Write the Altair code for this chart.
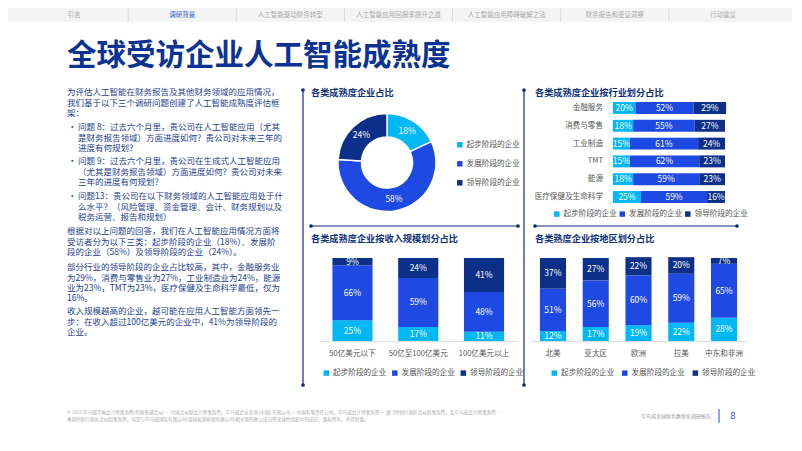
import altair as alt
import pandas as pd

# ---------------- data ----------------
stages = ["起步阶段的企业", "发展阶段的企业", "领导阶段的企业"]
stage_colors = ["#00B8F5", "#1E49E2", "#0C2F8A"]

overall = [18, 58, 24]

industries = ["金融服务", "消费与零售", "工业制造", "TMT", "能源", "医疗保健及生命科学"]
ind_start = [20, 18, 15, 15, 18, 25]
ind_dev = [52, 55, 61, 62, 59, 59]
ind_lead = [29, 27, 24, 23, 23, 16]

revenues = ["50亿美元以下", "50亿至100亿美元", "100亿美元以上"]
rev_start = [25, 17, 11]
rev_dev = [66, 59, 48]
rev_lead = [9, 24, 41]

regions = ["北美", "亚太区", "欧洲", "拉美", "中东和非洲"]
reg_start = [12, 17, 19, 22, 28]
reg_dev = [51, 56, 60, 59, 65]
reg_lead = [37, 27, 22, 20, 7]

nav_tabs = ["引言", "调研背景", "人工智能驱动财务转型", "人工智能应用回报率提升之道",
            "人工智能应用障碍破解之法", "财务报告和鉴证洞察", "行动建议"]

title_text = "全球受访企业人工智能成熟度"
p1 = ["为评估人工智能在财务报告及其他财务领域的应用情况，",
      "我们基于以下三个调研问题创建了人工智能成熟度评估框",
      "架："]
b1 = ["问题 8：过去六个月里，贵公司在人工智能应用（尤其",
      "是财务报告领域）方面进度如何？贵公司对未来三年的",
      "进度有何规划？"]
b2 = ["问题 9：过去六个月里，贵公司在生成式人工智能应用",
      "（尤其是财务报告领域）方面进度如何？贵公司对未来",
      "三年的进度有何规划？"]
b3 = ["问题13：贵公司在以下财务领域的人工智能应用处于什",
      "么水平？（风险管理、资金管理、会计、财务规划以及",
      "税务运营、报告和规划）"]
p2 = ["根据对以上问题的回答，我们在人工智能应用情况方面将",
      "受访者分为以下三类：起步阶段的企业（18%）、发展阶",
      "段的企业（58%）及领导阶段的企业（24%）。"]
p3 = ["部分行业的领导阶段的企业占比较高，其中，金融服务业",
      "为29%，消费与零售业为27%，工业制造业为24%，能源",
      "业为23%，TMT为23%，医疗保健及生命科学最低，仅为",
      "16%。"]
p4 = ["收入规模越高的企业，越可能在应用人工智能方面领先一",
      "步：在收入超过100亿美元的企业中，41%为领导阶段的",
      "企业。"]
footer1 = ("© 2025 毕马威华振会计师事务所(特殊普通合伙) — 中国合伙制会计师事务所，毕马威企业咨询 (中国) 有限公司 — "
           "中国有限责任公司，毕马威会计师事务所 — 澳门特别行政区合伙制事务所，及毕马威会计师事务所 —")
footer2 = "香港特别行政区合伙制事务所，均是与毕马威国际有限公司(英国私营担保有限公司)相关联的独立成员所全球性组织中的成员。版权所有，不得转载。"
footer_right = "毕马威全球财务数智化调研报告"
page_no = "8"

# ---------------- style ----------------
FONT = "Noto Sans CJK SC"
NAVY = "#0C2F7A"
BODY = "#24408F"
GRAY = "#555555"
W, H = 784, 428

color_scale = alt.Scale(domain=stages, range=stage_colors)


def long_df(cats, s, d, l, key):
    rows = []
    for i, c in enumerate(cats):
        for j, v in enumerate((s[i], d[i], l[i])):
            rows.append({key: c, "stage": stages[j], "order": j, "value": v, "label": f"{v}%"})
    return pd.DataFrame(rows)


def one():
    return pd.DataFrame({"a": [0]})


def txt(s, x, y, size, color, weight="normal", align="left", baseline="middle", lh=None):
    kw = dict(x=x, y=y, fontSize=size, color=color, fontWeight=weight, align=align,
              baseline=baseline, font=FONT, lineBreak="\n")
    if lh:
        kw["lineHeight"] = lh
    return alt.Chart(pd.DataFrame({"t": [s]})).mark_text(**kw).encode(text="t:N")


def legend(x, y, direction, colpad=0, rowpad=0):
    return alt.Legend(orient="none", legendX=x, legendY=y, direction=direction, title=None,
                      symbolType="square", symbolSize=30, symbolStrokeWidth=0,
                      labelFont=FONT, labelFontSize=7.6, labelColor=GRAY, labelOffset=3,
                      columnPadding=colpad, rowPadding=rowpad, padding=0)


def vline(x, y1, y2):
    r = alt.Chart(one()).mark_rule(color=NAVY, strokeWidth=1.2).encode(
        x=alt.value(x), x2=alt.value(x), y=alt.value(y1), y2=alt.value(y2))
    d1 = alt.Chart(one()).mark_circle(color=NAVY, size=14, opacity=1).encode(x=alt.value(x), y=alt.value(y1))
    d2 = alt.Chart(one()).mark_circle(color=NAVY, size=14, opacity=1).encode(x=alt.value(x), y=alt.value(y2))
    return [r, d1, d2]


def hline(y, x1, x2):
    r = alt.Chart(one()).mark_rule(color=NAVY, strokeWidth=1.2).encode(
        x=alt.value(x1), x2=alt.value(x2), y=alt.value(y), y2=alt.value(y))
    d1 = alt.Chart(one()).mark_circle(color=NAVY, size=14, opacity=1).encode(x=alt.value(x1), y=alt.value(y))
    d2 = alt.Chart(one()).mark_circle(color=NAVY, size=14, opacity=1).encode(x=alt.value(x2), y=alt.value(y))
    return [r, d1, d2]


layers = []

# ---------------- nav bar ----------------
layers.append(alt.Chart(one()).mark_rect(color="#f4f4f4").encode(
    x=alt.value(0), x2=alt.value(W), y=alt.value(0), y2=alt.value(14)))
nav_df = pd.DataFrame({"tab": nav_tabs})
nav_scale = alt.Scale(domain=nav_tabs, range=[12, 769], paddingInner=0, paddingOuter=0)
layers.append(alt.Chart(nav_df).mark_text(fontSize=6.5, font=FONT, baseline="middle").encode(
    x=alt.X("tab:N", scale=nav_scale, axis=None), y=alt.value(7), text="tab:N",
    color=alt.condition("datum.tab === '调研背景'", alt.value("#2F54D0"), alt.value("#AAAAAA"))))
layers.append(alt.Chart(nav_df.iloc[1:]).mark_rule(color="#dcdcdc").encode(
    x=alt.X("tab:N", scale=nav_scale, axis=None, bandPosition=0), y=alt.value(0), y2=alt.value(14)))

# ---------------- title & body text ----------------
layers.append(txt(title_text, 59, 48, 29.5, "#0C3391", weight="bold"))
LH = 10.2
FS = 8.5
for lines, yc in [(p1, 85), (p2, 224), (p3, 260), (p4, 304)]:
    layers.append(txt("\n".join(lines), 59, yc - 4.6, FS, BODY, baseline="top", lh=LH))
for lines, yc in [(b1, 120), (b2, 154), (b3, 189)]:
    layers.append(txt("•", 60, yc - 4.6, FS, BODY, baseline="top"))
    layers.append(txt("\n".join(lines), 70, yc - 4.6, FS, BODY, baseline="top", lh=LH))

# ---------------- panel lines ----------------
layers += vline(295, 82, 377)
layers += vline(516, 82, 377)
layers += hline(218, 303, 510)
layers += hline(218, 527, 729)

# ---------------- donut ----------------
CX, CY = 379, 154.5
donut_df = pd.DataFrame({"stage": stages, "value": overall, "order": [0, 1, 2],
                         "label": [f"{v}%" for v in overall]})
layers.append(txt("各类成熟度企业占比", 303, 85, 9.2, NAVY, weight="bold"))
layers.append(alt.Chart(donut_df).mark_arc(outerRadius=49, innerRadius=25.5, stroke="white",
                                           strokeWidth=1.5).encode(
    theta=alt.Theta("value:Q", stack=True),
    order=alt.Order("order:Q"),
    color=alt.Color("stage:N", scale=color_scale, legend=legend(448, 133, "vertical", rowpad=10)),
    x=alt.value(CX), y=alt.value(CY)))
layers.append(alt.Chart(donut_df).mark_text(radius=37.5, fontSize=8.5, font=FONT, color="white").encode(
    theta=alt.Theta("value:Q", stack=True),
    order=alt.Order("order:Q"),
    text="label:N", x=alt.value(CX), y=alt.value(CY)))

# ---------------- industry bars ----------------
ind_df = long_df(industries, ind_start, ind_dev, ind_lead, "cat")
ind_y = alt.Scale(domain=industries, range=[91.1, 197.9], paddingInner=0.33, paddingOuter=0.165)
ind_x = alt.Scale(domain=[0, 100], range=[605, 717], nice=False, zero=False)
layers.append(txt("各类成熟度企业按行业划分占比", 527, 85, 9.2, NAVY, weight="bold"))
ind_base = alt.Chart(ind_df).transform_stack(
    stack="value", groupby=["cat"], sort=[alt.SortField("order", order="ascending")], as_=["v0", "v1"])
layers.append(ind_base.mark_bar().encode(
    y=alt.Y("cat:N", scale=ind_y, axis=None),
    x=alt.X("v0:Q", scale=ind_x, axis=None), x2="v1:Q",
    color=alt.Color("stage:N", scale=color_scale, legend=legend(545, 202, "horizontal", colpad=1.5))))
layers.append(ind_base.transform_calculate(mid="(datum.v0 + datum.v1) / 2").mark_text(
    fontSize=8.5, font=FONT, color="white").encode(
    y=alt.Y("cat:N", scale=ind_y, axis=None),
    x=alt.X("mid:Q", scale=ind_x, axis=None), text="label:N"))
layers.append(alt.Chart(pd.DataFrame({"cat": industries})).mark_text(
    fontSize=7.6, font=FONT, color=GRAY, align="right").encode(
    y=alt.Y("cat:N", scale=ind_y, axis=None), x=alt.value(595), text="cat:N"))


# ---------------- vertical stacked bars ----------------
def vbars(cats, s, d, l, xrange, title, tx, leg, base_x1, base_x2):
    df = long_df(cats, s, d, l, "cat")
    xs = alt.Scale(domain=cats, range=xrange, paddingInner=0.39, paddingOuter=0.195)
    ys = alt.Scale(domain=[0, 100], range=[333, 250], nice=False, zero=False)
    out = [txt(title, tx, 231, 9.2, NAVY, weight="bold")]
    out.append(alt.Chart(one()).mark_rule(color="#dddddd", strokeWidth=1).encode(
        x=alt.value(base_x1), x2=alt.value(base_x2), y=alt.value(333.5)))
    base = alt.Chart(df).transform_stack(
        stack="value", groupby=["cat"], sort=[alt.SortField("order", order="ascending")], as_=["v0", "v1"])
    out.append(base.mark_bar().encode(
        x=alt.X("cat:N", scale=xs, axis=None),
        y=alt.Y("v0:Q", scale=ys, axis=None), y2="v1:Q",
        color=alt.Color("stage:N", scale=color_scale, legend=leg)))
    out.append(base.transform_calculate(mid="(datum.v0 + datum.v1) / 2").mark_text(
        fontSize=8.5, font=FONT, color="white").encode(
        x=alt.X("cat:N", scale=xs, axis=None),
        y=alt.Y("mid:Q", scale=ys, axis=None), text="label:N"))
    out.append(alt.Chart(pd.DataFrame({"cat": cats})).mark_text(
        fontSize=7.6, font=FONT, color=GRAY).encode(
        x=alt.X("cat:N", scale=xs, axis=None), y=alt.value(346), text="cat:N"))
    return out


layers += vbars(revenues, rev_start, rev_dev, rev_lead, [311.6, 508.9],
                "各类成熟度企业按收入规模划分占比", 303,
                legend(314.5, 361, "horizontal", colpad=4.5), 312, 510)
layers += vbars(regions, reg_start, reg_dev, reg_lead, [523.6, 737.4],
                "各类熟度企业按地区划分占比", 527,
                legend(542.5, 361, "horizontal", colpad=6.5), 524, 739)

# ---------------- footer ----------------
layers.append(txt(footer1 + "\n" + footer2, 59, 402, 4.6, "#AAAAAA", baseline="top", lh=7))
layers.append(txt(footer_right, 703, 408, 5, "#999999", align="right"))
layers.append(alt.Chart(one()).mark_rule(color="#1E49E2", strokeWidth=1).encode(
    x=alt.value(711), x2=alt.value(711), y=alt.value(401), y2=alt.value(415)))
layers.append(txt(page_no, 725, 408, 9.5, "#1E49E2", align="center"))

chart = alt.layer(*layers).resolve_scale(
    x="independent", y="independent", color="independent"
).properties(
    width=W, height=H, padding=0, autosize=alt.AutoSizeParams(type="none"),
    background="white"
).configure_view(strokeWidth=0)

chart.save("out.html", embed_options={"renderer": "svg", "actions": False})
